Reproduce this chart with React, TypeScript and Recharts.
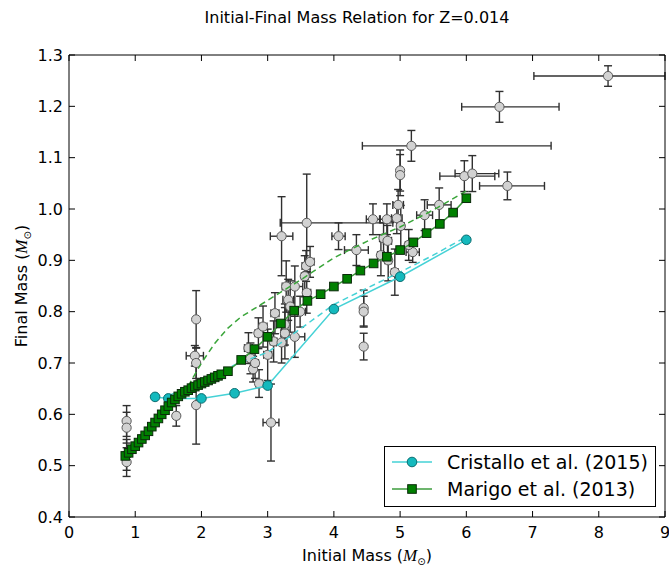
import React from 'react';
import { ComposedChart, Scatter, XAxis, YAxis, ErrorBar, Legend, Label } from 'recharts';

const FONT = '"DejaVu Sans", "Bitstream Vera Sans", sans-serif';
const MATH_FONT = '"Liberation Serif", "DejaVu Serif", serif';

const chartTitle = 'Initial-Final Mass Relation for Z=0.014';
const xTicks = [0, 1, 2, 3, 4, 5, 6, 7, 8, 9];
const yTicks = [0.4, 0.5, 0.6, 0.7, 0.8, 0.9, 1.0, 1.1, 1.2, 1.3];

const cristalloName = 'Cristallo et al. (2015)';
const cristalloMass = [1.3, 1.5, 2.0, 2.5, 3.0, 4.0, 5.0, 6.0];
const cristalloFinal = [0.634, 0.631, 0.631, 0.641, 0.656, 0.805, 0.868, 0.94];

const cristalloDashMass = [1.5, 2.0, 2.5, 3.0, 3.5, 4.0, 4.5, 5.0, 5.5, 6.0];
const cristalloDashFinal = [0.636, 0.666, 0.696, 0.721, 0.767, 0.814, 0.846, 0.877, 0.91, 0.946];

const marigoName = 'Marigo et al. (2013)';
const marigoMass = [
  0.85, 0.9, 0.95, 1.0, 1.05, 1.1, 1.15, 1.2, 1.25, 1.3, 1.35, 1.4, 1.45, 1.5, 1.55,
  1.6, 1.65, 1.7, 1.75, 1.8, 1.85, 1.9, 1.95, 2.0, 2.05, 2.1, 2.15, 2.2, 2.25, 2.3,
  2.4, 2.6, 2.8, 3.0, 3.2, 3.4, 3.6, 3.8, 4.0, 4.2, 4.4, 4.6, 4.8, 5.0, 5.2, 5.4,
  5.6, 5.8, 6.0,
];
const marigoFinal = [
  0.519, 0.525, 0.532, 0.538, 0.545, 0.552, 0.559, 0.567, 0.576, 0.584, 0.592, 0.6,
  0.608, 0.616, 0.623, 0.629, 0.635, 0.64, 0.644, 0.647, 0.651, 0.654, 0.657, 0.66,
  0.663, 0.666, 0.669, 0.672, 0.675, 0.678, 0.684, 0.706, 0.727, 0.751, 0.777, 0.802,
  0.821, 0.834, 0.849, 0.864, 0.88, 0.894, 0.907, 0.92, 0.935, 0.953, 0.971, 0.993,
  1.021,
];

const marigoDashMass = [1.8, 2.0, 2.2, 2.4, 2.6, 3.0, 3.5, 4.0, 4.5, 5.0, 5.5, 6.0];
const marigoDashFinal = [0.655, 0.7, 0.738, 0.768, 0.79, 0.822, 0.862, 0.905, 0.937, 0.965, 0.998, 1.035];

// Observed white dwarfs in clusters
const obsMass = [
  0.87, 0.87, 0.87, 0.87, 1.62, 1.92, 1.92, 1.9, 1.92,
  2.71, 2.74, 2.78, 2.81, 2.87, 2.86, 2.93, 3.0, 3.05, 3.11, 3.09, 3.21, 3.26, 3.26,
  3.41, 3.31, 3.34, 3.28, 3.41, 3.59, 3.56, 3.49, 3.58, 3.64, 3.59, 3.21, 4.07, 4.34,
  4.45, 4.45, 4.45, 4.59, 4.8, 4.95, 4.97, 5.01, 5.0, 5.0, 5.17, 5.37, 5.59, 5.97,
  6.09, 6.62, 6.5, 8.14, 4.75, 4.81, 4.71, 4.82, 4.92, 5.19, 5.13,
];
const obsFinal = [
  0.587, 0.574, 0.521, 0.507, 0.597, 0.618, 0.785, 0.714, 0.7,
  0.729, 0.709, 0.688, 0.7, 0.66, 0.758, 0.771, 0.716, 0.584, 0.797, 0.742, 0.74, 0.758, 0.775,
  0.751, 0.823, 0.81, 0.849, 0.849, 0.837, 0.869, 0.8, 0.889, 0.897, 0.973, 0.947, 0.947, 0.92,
  0.807, 0.8, 0.732, 0.98, 0.98, 0.982, 1.008, 0.967, 1.075, 1.066, 1.123, 0.988, 1.008, 1.064,
  1.069, 1.045, 1.199, 1.259, 0.943, 0.938, 0.91, 0.9, 0.877, 0.916, 0.93,
];
const obsMassErr: (number | number[])[] = [
  0.02, 0.02, 0.02, 0.02, 0.04, 0, 0, 0.13, 0.04,
  0.06, 0.05, 0.04, 0.05, 0.05, 0.05, 0.06, 0.06, 0.12, 0.06, 0.05, 0.08, 0.06, 0.05,
  0.15, 0.08, 0.06, 0.06, 0.12, 0.06, 0.05, 0.08, 0.06, 0.06, [0.4, 1.3], 0.17, 0.1, 0.18,
  0, 0, 0, 0.1, 0.1, 0.08, 0.08, 0.05, 0, 0, [0.74, 2.11], 0.12, 0.18, [0.37, 0.46],
  [0.26, 0.4], [0.42, 0.56], [0.57, 0.9], [1.12, 0.86], 0.06, 0.06, 0.05, 0.05, 0.05, 0.1, 0.05,
];
const obsFinalErr = [
  0.03, 0.03, 0.03, 0.028, 0.02, 0.076, 0.056, 0.02, 0.03,
  0.03, 0.03, 0.025, 0.03, 0.027, 0.03, 0.04, 0.05, 0.075, 0.04, 0.04, 0.04, 0.05, 0.04,
  0.04, 0.04, 0.05, 0.05, 0.04, 0.04, 0.04, 0.03, 0.03, 0.03, 0.095, 0.077, 0.026, 0.03,
  0.035, 0.03, 0.026, 0.03, 0.03, 0.03, 0.03, 0.04, 0.04, 0.04, 0.03, 0.03, 0.033, 0.03,
  0.035, 0.027, 0.03, 0.02, 0.03, 0.03, 0.04, 0.04, 0.045, 0.02, 0.03,
];

const obsData = obsMass.map((x, i) => ({ x, y: obsFinal[i], ex: obsMassErr[i], ey: obsFinalErr[i] }));
const cristalloData = cristalloMass.map((x, i) => ({ x, y: cristalloFinal[i] }));
const cristalloDashData = cristalloDashMass.map((x, i) => ({ x, y: cristalloDashFinal[i] }));
const marigoData = marigoMass.map((x, i) => ({ x, y: marigoFinal[i] }));
const marigoDashData = marigoDashMass.map((x, i) => ({ x, y: marigoDashFinal[i] }));

const CYAN_LINE = '#45d2d6';
const CYAN_FILL = '#14b9bd';
const CYAN_EDGE = '#0b6d70';
const GREEN_LINE = '#3c9c3c';
const GREEN_DASH = '#3aa53a';
const GREEN_FILL = '#008000';
const GREEN_EDGE = '#0a2a0a';

const GrayDot = (p: any) => (
  <circle cx={p.cx} cy={p.cy} r={4.6} fill="#d2d2d2" stroke="#5a5a5a" strokeWidth={1} />
);
const CyanDot = (p: any) => (
  <circle cx={p.cx} cy={p.cy} r={4.8} fill={CYAN_FILL} stroke={CYAN_EDGE} strokeWidth={1} />
);
const GreenSquare = (p: any) => (
  <rect x={p.cx - 4.3} y={p.cy - 4.3} width={8.6} height={8.6} fill={GREEN_FILL} stroke={GREEN_EDGE} strokeWidth={1} />
);
const NoShape = () => <g />;

const XLabel = (props: any) => {
  const vb = props.viewBox || { x: 69, y: 517, width: 596 };
  return (
    <text x={vb.x + vb.width / 2} y={561} textAnchor="middle" fontSize={16} fontFamily={FONT} fill="#000">
      Initial Mass (
      <tspan fontFamily={MATH_FONT} fontStyle="italic" fontSize={17}>M</tspan>
      <tspan fontSize={10} dy={4}>⊙</tspan>
      <tspan dy={-4}>)</tspan>
    </text>
  );
};

const YLabel = () => {
  const cx = 27;
  const cy = 286;
  return (
    <text x={cx} y={cy} transform={`rotate(-90, ${cx}, ${cy})`} textAnchor="middle" fontSize={16} fontFamily={FONT} fill="#000">
      Final Mass (
      <tspan fontFamily={MATH_FONT} fontStyle="italic" fontSize={17}>M</tspan>
      <tspan fontSize={10} dy={4}>⊙</tspan>
      <tspan dy={-4}>)</tspan>
    </text>
  );
};

const TitleLabel = () => (
  <text x={357} y={23} textAnchor="middle" fontSize={16} fontFamily={FONT} fill="#000">
    {chartTitle}
  </text>
);

const LegendBox = () => {
  const row = (top: number, name: string, kind: 'c' | 'g') => (
    <div style={{ position: 'absolute', left: 0, top, height: 26, width: '100%' }}>
      <svg width={56} height={26} style={{ position: 'absolute', left: 0, top: 0 }}>
        <line x1={7} y1={13} x2={47} y2={13} stroke={kind === 'c' ? CYAN_LINE : GREEN_LINE} strokeWidth={1.5} />
        {kind === 'c' ? (
          <circle cx={27} cy={13} r={4.8} fill={CYAN_FILL} stroke={CYAN_EDGE} strokeWidth={1} />
        ) : (
          <rect x={22.7} y={8.7} width={8.6} height={8.6} fill={GREEN_FILL} stroke={GREEN_EDGE} strokeWidth={1} />
        )}
      </svg>
      <span style={{ position: 'absolute', left: 62, top: 0, lineHeight: '26px', fontSize: 19, fontFamily: FONT, color: '#000', whiteSpace: 'nowrap' }}>
        {name}
      </span>
    </div>
  );
  return (
    <div style={{ position: 'relative', width: 272, height: 61, border: '1px solid #000', background: '#fff', boxSizing: 'border-box' }}>
      {row(2, cristalloName, 'c')}
      {row(29, marigoName, 'g')}
    </div>
  );
};

const tickStyle = { fill: '#000', fontSize: 16, fontFamily: FONT };

export default function App() {
  return (
    <div style={{ position: 'absolute', left: 0, top: 0, width: 669, height: 569, background: '#fff' }}>
      <ComposedChart
        width={669}
        height={569}
        margin={{ top: 54, right: 3, bottom: 7, left: 9 }}
        style={{ fontFamily: FONT }}
      >
        <XAxis
          type="number"
          dataKey="x"
          domain={[0, 9]}
          ticks={xTicks}
          interval={0}
          allowDataOverflow
          height={45}
          tickSize={-6}
          tickMargin={16}
          axisLine={{ stroke: '#000', strokeWidth: 1 }}
          tickLine={{ stroke: '#000' }}
          tick={tickStyle}
        >
          <Label content={XLabel} />
        </XAxis>
        <XAxis
          xAxisId="top"
          orientation="top"
          type="number"
          dataKey="x"
          domain={[0, 9]}
          ticks={xTicks}
          interval={0}
          allowDataOverflow
          height={1}
          tickSize={-6}
          tickFormatter={() => ''}
          axisLine={{ stroke: '#000', strokeWidth: 1 }}
          tickLine={{ stroke: '#000' }}
        >
          <Label content={TitleLabel} />
        </XAxis>
        <YAxis
          type="number"
          dataKey="y"
          domain={[0.4, 1.3]}
          ticks={yTicks}
          interval={0}
          allowDataOverflow
          width={60}
          tickSize={-6}
          tickMargin={12}
          tickFormatter={(v: number) => v.toFixed(1)}
          axisLine={{ stroke: '#000', strokeWidth: 1 }}
          tickLine={{ stroke: '#000' }}
          tick={tickStyle}
        >
          <Label content={YLabel} />
        </YAxis>
        <YAxis
          yAxisId="right"
          orientation="right"
          type="number"
          dataKey="y"
          domain={[0.4, 1.3]}
          ticks={yTicks}
          interval={0}
          allowDataOverflow
          width={1}
          tickSize={-6}
          tickFormatter={() => ''}
          axisLine={{ stroke: '#000', strokeWidth: 1 }}
          tickLine={{ stroke: '#000' }}
        />

        <Scatter data={obsData} shape={GrayDot} isAnimationActive={false}>
          <ErrorBar dataKey="ex" direction="x" width={4} stroke="#303030" strokeWidth={1.4} />
          <ErrorBar dataKey="ey" direction="y" width={4} stroke="#303030" strokeWidth={1.4} />
        </Scatter>

        <Scatter
          data={cristalloDashData}
          shape={NoShape}
          line={{ stroke: CYAN_LINE, strokeWidth: 1.5, strokeDasharray: '6 4' }}
          isAnimationActive={false}
        />
        <Scatter
          data={marigoDashData}
          shape={NoShape}
          line={{ stroke: GREEN_DASH, strokeWidth: 1.5, strokeDasharray: '6 4' }}
          isAnimationActive={false}
        />
        <Scatter
          data={cristalloData}
          shape={CyanDot}
          line={{ stroke: CYAN_LINE, strokeWidth: 1.5 }}
          isAnimationActive={false}
        />
        <Scatter
          data={marigoData}
          shape={GreenSquare}
          line={{ stroke: GREEN_LINE, strokeWidth: 1.5 }}
          isAnimationActive={false}
        />

        <Legend
          layout="horizontal"
          align="center"
          verticalAlign="middle"
          content={LegendBox}
          wrapperStyle={{ left: 384, top: 446, width: 272, height: 61 }}
        />
      </ComposedChart>
    </div>
  );
}
